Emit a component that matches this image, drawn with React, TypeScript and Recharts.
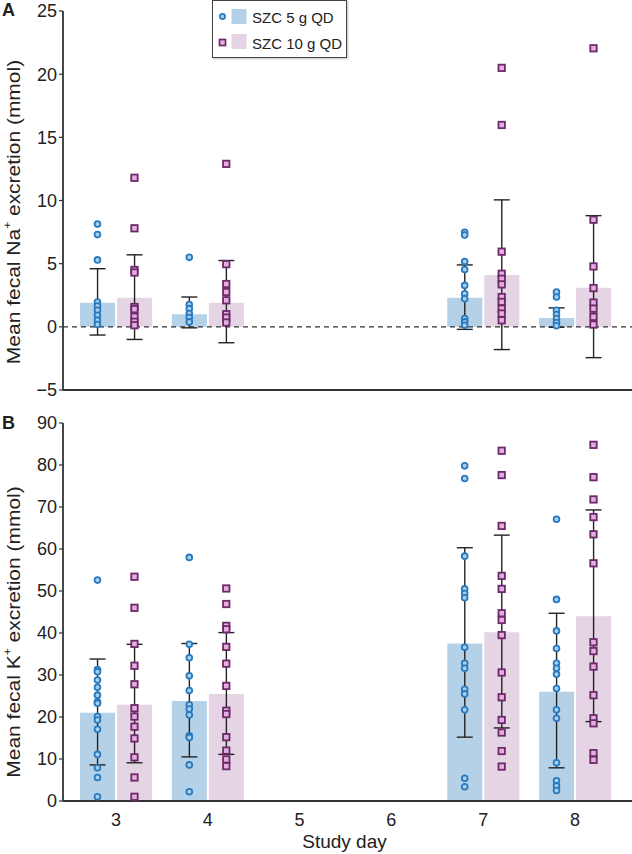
import { Bar, ComposedChart, ErrorBar, ReferenceLine, Scatter, XAxis, YAxis } from "recharts";

const studyDays = [3, 4, 7, 8];
const dayTicks = [3, 4, 5, 6, 7, 8];
const groupNames = ["SZC 5 g QD", "SZC 10 g QD"];

// panel A: fecal Na+ (mmol)
const naMean5 = [1.9, 1.0, 2.3, 0.7];
const naLow5 = [-0.65, -0.08, -0.2, -0.03];
const naHigh5 = [4.6, 2.36, 4.9, 1.5];
const naMean10 = [2.3, 1.9, 4.1, 3.1];
const naLow10 = [-1.0, -1.26, -1.8, -2.44];
const naHigh10 = [5.7, 5.25, 10.05, 8.8];
const naPts5 = [
  [8.13, 7.3, 5.3, 1.97, 1.65, 1.31, 0.92, 0.53, 0.18],
  [5.5, 1.76, 1.44, 1.05, 0.73, 0.39],
  [7.48, 7.27, 5.17, 4.54, 3.28, 2.62, 2.23, 0.65, 0.39, 0.13],
  [2.76, 2.36, 1.31, 0.97, 0.65, 0.34, 0.08],
];
const naPts10 = [
  [11.8, 7.8, 4.5, 4.3, 1.57, 1.4, 0.8, 0.4, 0.13],
  [12.9, 4.96, 3.39, 2.76, 2.1, 1.0, 0.73, 0.34],
  [20.5, 15.98, 5.95, 4.2, 3.8, 3.36, 2.36, 1.97, 1.44, 1.05, 0.52],
  [22.05, 8.48, 4.78, 3.07, 1.92, 1.44, 0.79, 0.18],
];
const naTicks = [-5, 0, 5, 10, 15, 20, 25];

// panel B: fecal K+ (mmol)
const kMean5 = [21.0, 23.8, 37.5, 26.0];
const kLow5 = [8.6, 10.5, 15.2, 7.9];
const kHigh5 = [33.8, 37.5, 60.3, 44.7];
const kMean10 = [22.9, 25.5, 40.2, 44.0];
const kLow10 = [9.1, 11.1, 17.4, 18.9];
const kHigh10 = [37.3, 40.1, 63.3, 69.3];
const kPts5 = [
  [52.6, 31.3, 30.8, 28.8, 27.1, 25.2, 23.6, 23.3, 20.1, 19.3, 17.1, 11.1, 7.9, 5.6, 1.0],
  [58.0, 37.3, 34.1, 29.8, 26.3, 22.9, 21.9, 20.5, 15.5, 15.1, 8.6, 2.2],
  [79.8, 76.8, 58.3, 50.5, 49.4, 48.4, 36.6, 32.8, 31.6, 26.6, 25.5, 21.7, 5.4, 3.4],
  [67.1, 48.0, 40.5, 36.3, 32.8, 31.6, 30.2, 26.8, 21.7, 19.7, 9.1, 4.8, 3.6, 2.5],
];
const kPts10 = [
  [53.4, 46.0, 37.4, 32.2, 27.8, 22.1, 20.1, 17.7, 14.9, 10.4, 5.6, 1.0],
  [50.6, 46.9, 41.7, 40.9, 36.7, 32.7, 27.4, 21.5, 20.7, 15.2, 12.0, 9.9, 8.3],
  [83.4, 77.6, 65.5, 53.6, 50.5, 44.7, 43.1, 39.5, 30.6, 24.7, 19.3, 16.3, 11.9, 8.2],
  [84.8, 77.1, 71.8, 67.6, 63.5, 56.6, 37.8, 35.7, 32.0, 25.2, 19.7, 18.5, 11.4, 9.8],
];
const kTicks = [0, 10, 20, 30, 40, 50, 60, 70, 80, 90];

const FONT = "'Liberation Sans', Arial, sans-serif";
const INK = "#222";
const AXIS = "#333";
const BLUE_BAR = "#b4d1e8";
const PINK_BAR = "#e4d4e4";
const BLUE_DOT = "#2a79bd";
const BLUE_FILL = "#a6d0ef";
const PURPLE_DOT = "#6d2a69";
const PURPLE_FILL = "#e4aee0";
const SHIFT = 18.5;

function buildRows(m5: number[], lo5: number[], hi5: number[], m10: number[], lo10: number[], hi10: number[]) {
  return studyDays.map((day, i) => ({
    day,
    mean5: m5[i],
    err5: [m5[i] - lo5[i], hi5[i] - m5[i]],
    mean10: m10[i],
    err10: [m10[i] - lo10[i], hi10[i] - m10[i]],
  }));
}

function buildPoints(pts: number[][]) {
  return studyDays.flatMap((day, i) => pts[i].map((value) => ({ day, value })));
}

const CircleDot = (p: any) => (
  <circle cx={p.cx - SHIFT} cy={p.cy} r={2.9} fill={BLUE_FILL} stroke={BLUE_DOT} strokeWidth={1.8} />
);

const SquareDot = (p: any) => (
  <rect x={p.cx + SHIFT - 3.2} y={p.cy - 3.2} width={6.4} height={6.4} fill={PURPLE_FILL} stroke={PURPLE_DOT} strokeWidth={1.8} />
);

function AxisTitle({ viewBox, ion, center }: any) {
  const cx = 14;
  const cy = center ?? viewBox.y + viewBox.height / 2;
  return (
    <text
      transform={`translate(${cx}, ${cy}) scale(0.85, 1) rotate(-90)`}
      x={0}
      y={0}
      textAnchor="middle"
      dominantBaseline="central"
      fontSize={21}
      fontFamily={FONT}
      fill={INK}
    >
      Mean fecal {ion}
      <tspan dy={-8} fontSize={12}>+</tspan>
      <tspan dy={8}> excretion (mmol)</tspan>
    </text>
  );
}

function DayTitle({ viewBox }: any) {
  const cx = viewBox.x + viewBox.width / 2 - 3;
  return (
    <text x={cx} y={viewBox.y + 47} textAnchor="middle" fontSize={19} fontFamily={FONT} fill={INK}>
      Study day
    </text>
  );
}

interface PanelProps {
  height: number;
  top: number;
  bottom: number;
  rows: any[];
  pts5: any[];
  pts10: any[];
  domain: [number, number];
  ticks: number[];
  ion: string;
  labelCenter: number;
  showDays: boolean;
}

function Panel({ height, top, bottom, rows, pts5, pts10, domain, ticks, ion, labelCenter, showDays }: PanelProps) {
  const tickStyle = { fontSize: 18, fontFamily: FONT, fill: INK };
  return (
    <ComposedChart
      width={632}
      height={height}
      data={rows}
      margin={{ top, right: 0, left: 0, bottom: 0 }}
      barGap={2}
    >
      <XAxis
        type="number"
        dataKey="day"
        domain={[2.423, 8.621]}
        ticks={dayTicks}
        interval={0}
        allowDataOverflow
        height={bottom}
        axisLine={{ stroke: AXIS, strokeWidth: 1.8 }}
        tickLine={false}
        tick={showDays ? tickStyle : false}
        tickMargin={6}
        label={showDays ? { content: (props: any) => <DayTitle {...props} /> } : undefined}
      />
      <YAxis
        type="number"
        domain={domain}
        ticks={ticks}
        interval={0}
        allowDataOverflow
        width={63}
        axisLine={{ stroke: AXIS, strokeWidth: 1.8 }}
        tickLine={{ stroke: AXIS, strokeWidth: 1.2 }}
        tickSize={4}
        tickMargin={2}
        tick={tickStyle}
        tickFormatter={(v) => (v < 0 ? `\u2212${Math.abs(v)}` : `${v}`)}
        label={{ content: (props: any) => <AxisTitle {...props} ion={ion} center={labelCenter} /> }}
      />
      {domain[0] < 0 && <ReferenceLine y={0} stroke={AXIS} strokeWidth={1.3} strokeDasharray="5 4" />}
      <Bar dataKey="mean5" name={groupNames[0]} fill={BLUE_BAR} barSize={35} isAnimationActive={false}>
        <ErrorBar dataKey="err5" width={8} stroke={INK} strokeWidth={1.4} direction="y" />
      </Bar>
      <Bar dataKey="mean10" name={groupNames[1]} fill={PINK_BAR} barSize={35} isAnimationActive={false}>
        <ErrorBar dataKey="err10" width={8} stroke={INK} strokeWidth={1.4} direction="y" />
      </Bar>
      <Scatter data={pts5} dataKey="value" shape={CircleDot} isAnimationActive={false} />
      <Scatter data={pts10} dataKey="value" shape={SquareDot} isAnimationActive={false} />
    </ComposedChart>
  );
}

function LegendBox() {
  return (
    <div
      style={{
        position: "absolute",
        left: 212,
        top: 0,
        width: 133,
        height: 56,
        border: "1px solid #444",
        background: "#fff",
        boxShadow: "1px 1px 2px rgba(0,0,0,0.25)",
      }}
    >
      <svg width={133} height={56}>
        <circle cx={9.5} cy={15.5} r={2.6} fill={BLUE_FILL} stroke={BLUE_DOT} strokeWidth={1.7} />
        <rect x={18.5} y={8} width={15} height={15} fill={BLUE_BAR} />
        <text x={39} y={21.5} fontSize={15} fontFamily={FONT} fill={INK}>
          {groupNames[0]}
        </text>
        <rect x={6.5} y={38.5} width={6} height={6} fill={PURPLE_FILL} stroke={PURPLE_DOT} strokeWidth={1.7} />
        <rect x={18.5} y={33} width={15} height={15} fill={PINK_BAR} />
        <text x={39} y={47.5} fontSize={15} fontFamily={FONT} fill={INK}>
          {groupNames[1]}
        </text>
      </svg>
    </div>
  );
}

const letterStyle: React.CSSProperties = {
  position: "absolute",
  left: 2,
  fontSize: 18,
  fontWeight: "bold",
  fontFamily: FONT,
  color: INK,
  lineHeight: "18px",
};

export default function App() {
  const naRows = buildRows(naMean5, naLow5, naHigh5, naMean10, naLow10, naHigh10);
  const kRows = buildRows(kMean5, kLow5, kHigh5, kMean10, kLow10, kHigh10);
  return (
    <div style={{ position: "absolute", left: 0, top: 0, width: 632, height: 854, background: "#fff" }}>
      <div style={{ position: "absolute", left: 0, top: 0 }}>
        <Panel
          height={400}
          top={11}
          bottom={10}
          rows={naRows}
          pts5={buildPoints(naPts5)}
          pts10={buildPoints(naPts10)}
          domain={[-5, 25]}
          ticks={naTicks}
          ion="Na"
          labelCenter={212}
          showDays={false}
        />
      </div>
      <div style={{ position: "absolute", left: 0, top: 400 }}>
        <Panel
          height={454}
          top={23}
          bottom={53}
          rows={kRows}
          pts5={buildPoints(kPts5)}
          pts10={buildPoints(kPts10)}
          domain={[0, 90]}
          ticks={kTicks}
          ion="K"
          labelCenter={232}
          showDays
        />
      </div>
      <LegendBox />
      <div style={{ ...letterStyle, top: 1 }}>A</div>
      <div style={{ ...letterStyle, top: 414 }}>B</div>
    </div>
  );
}
